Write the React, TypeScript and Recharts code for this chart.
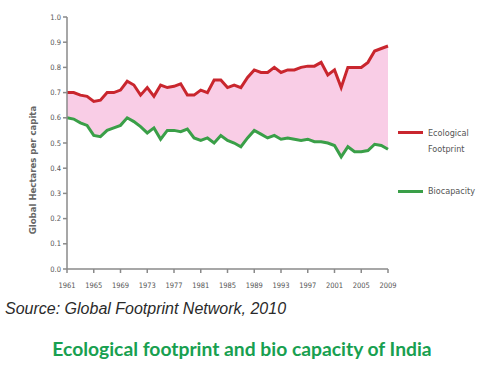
import { ComposedChart, Area, Line, XAxis, YAxis } from 'recharts'

const years = [
  1961, 1962, 1963, 1964, 1965, 1966, 1967, 1968, 1969, 1970, 1971, 1972, 1973, 1974, 1975, 1976, 1977,
  1978, 1979, 1980, 1981, 1982, 1983, 1984, 1985, 1986, 1987, 1988, 1989, 1990, 1991, 1992, 1993, 1994,
  1995, 1996, 1997, 1998, 1999, 2000, 2001, 2002, 2003, 2004, 2005, 2006, 2007, 2008, 2009,
]

const footprint = [
  0.70, 0.70, 0.69, 0.685, 0.665, 0.67, 0.70, 0.70, 0.71, 0.745, 0.73, 0.69, 0.72, 0.685, 0.73, 0.72, 0.725,
  0.735, 0.69, 0.69, 0.71, 0.70, 0.75, 0.75, 0.72, 0.73, 0.72, 0.76, 0.79, 0.78, 0.78, 0.80, 0.78, 0.79,
  0.79, 0.80, 0.805, 0.805, 0.82, 0.77, 0.79, 0.72, 0.80, 0.80, 0.80, 0.82, 0.865, 0.875, 0.885,
]

const biocapacity = [
  0.60, 0.595, 0.58, 0.57, 0.53, 0.525, 0.55, 0.56, 0.57, 0.60, 0.585, 0.565, 0.54, 0.56, 0.515, 0.55, 0.55,
  0.545, 0.555, 0.52, 0.51, 0.52, 0.50, 0.53, 0.51, 0.50, 0.485, 0.52, 0.55, 0.535, 0.52, 0.53, 0.515, 0.52,
  0.515, 0.51, 0.515, 0.505, 0.505, 0.50, 0.49, 0.445, 0.485, 0.465, 0.465, 0.47, 0.495, 0.49, 0.475,
]

const xTicks = [1961, 1965, 1969, 1973, 1977, 1981, 1985, 1989, 1993, 1997, 2001, 2005, 2009]
const yTicks = [0, 0.1, 0.2, 0.3, 0.4, 0.5, 0.6, 0.7, 0.8, 0.9, 1.0]

const data = years.map((year, i) => ({
  year,
  footprint: footprint[i],
  biocapacity: biocapacity[i],
  gap: [biocapacity[i], footprint[i]],
}))

const tickStyle = { fontSize: 7.5, fill: '#555', fontFamily: 'DejaVu Sans Condensed, DejaVu Sans' }

export default function App() {
  return (
    <div style={{ position: 'absolute', left: 0, top: 0, width: 484, height: 376, background: '#fff', fontFamily: 'Liberation Sans, Arial' }}>
      <div style={{ position: 'absolute', left: 0, top: 0 }}>
        <ComposedChart width={400} height={300} data={data} margin={{ top: 17, right: 12, bottom: 0, left: 0 }}>
          <XAxis
            dataKey="year"
            type="number"
            domain={[1961, 2009]}
            ticks={xTicks}
            height={31}
            stroke="#8a8a8a"
            strokeWidth={1.5}
            tickSize={4}
            tick={tickStyle}
            tickMargin={10}
          />
          <YAxis
            type="number"
            domain={[0, 1]}
            ticks={yTicks}
            width={67}
            stroke="#8a8a8a"
            strokeWidth={1.5}
            tickSize={4}
            tick={tickStyle}
            tickFormatter={(v: number) => v.toFixed(1)}
          />
          <Area dataKey="gap" type="linear" stroke="none" fill="#f9cde6" fillOpacity={1} isAnimationActive={false} />
          <Line dataKey="footprint" type="linear" stroke="#c9262e" strokeWidth={3} dot={false} isAnimationActive={false} />
          <Line dataKey="biocapacity" type="linear" stroke="#3a9f48" strokeWidth={3} dot={false} isAnimationActive={false} />
        </ComposedChart>
      </div>
      <div
        style={{
          position: 'absolute',
          left: 32,
          top: 170,
          transform: 'translate(-50%, -50%) rotate(-90deg)',
          whiteSpace: 'nowrap',
          fontSize: 9.5,
          fontWeight: 'bold',
          color: '#666',
          fontFamily: 'DejaVu Sans Condensed, DejaVu Sans',
        }}
      >
        Global Hectares per capita
      </div>
      <div style={{ position: 'absolute', left: 398, top: 131, width: 25, height: 3, background: '#c9262e' }} />
      <div style={{ position: 'absolute', left: 428, top: 125, fontSize: 9, lineHeight: '16px', color: '#555', fontFamily: 'DejaVu Sans Condensed, DejaVu Sans' }}>
        Ecological
        <br />
        Footprint
      </div>
      <div style={{ position: 'absolute', left: 398, top: 190, width: 25, height: 3, background: '#3a9f48' }} />
      <div style={{ position: 'absolute', left: 428, top: 184, fontSize: 9, lineHeight: '14px', color: '#555', fontFamily: 'DejaVu Sans Condensed, DejaVu Sans' }}>
        Biocapacity
      </div>
      <div style={{ position: 'absolute', left: 5, top: 300, fontSize: 16, fontStyle: 'italic', color: '#2a2a2a' }}>
        Source: Global Footprint Network, 2010
      </div>
      <div
        style={{
          position: 'absolute',
          left: 0,
          width: 484,
          top: 337,
          textAlign: 'center',
          fontSize: 19.3,
          fontWeight: 'bold',
          color: '#18a050',
          fontFamily: 'Lato, Open Sans',
        }}
      >
        Ecological footprint and bio capacity of India
      </div>
    </div>
  )
}
